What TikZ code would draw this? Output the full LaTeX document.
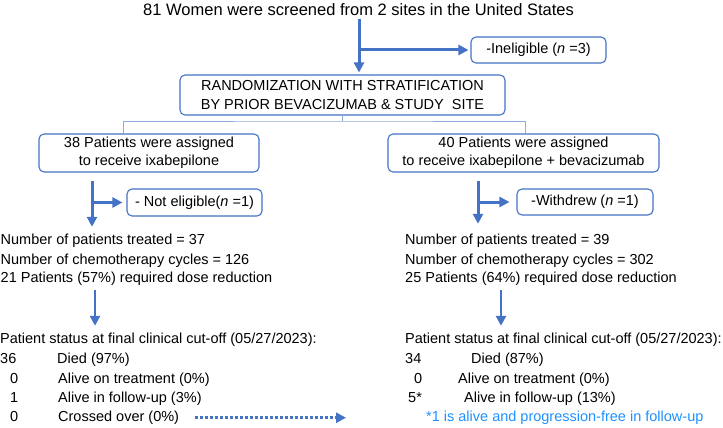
\documentclass[tikz,border=0pt]{standalone}
\usepackage{fontspec}
\setmainfont{Liberation Sans}
\usetikzlibrary{arrows.meta,positioning}
\definecolor{flowblue}{RGB}{68,114,196}
\definecolor{linkblue}{RGB}{143,170,220}
\definecolor{noteblue}{RGB}{30,144,255}

\begin{document}
\begin{tikzpicture}[
    x=1pt, y=-1pt,
    box/.style={draw=flowblue, line width=1.1pt, rounded corners=5pt, align=center, inner sep=0pt, font=\fontsize{14.5}{17.5}\selectfont},
    txt/.style={anchor=base west, inner sep=0pt, font=\fontsize{14.5}{17.5}\selectfont},
    flow/.style={->, line width=3pt, draw=flowblue},
    link/.style={draw=linkblue, line width=1pt},
    >={Triangle[length=10pt,width=10pt]}
]
\useasboundingbox (0,0) rectangle (723,428);

% arrow columns
\coordinate (mcol) at (359,0);
\coordinate (lcol) at (92,0);
\coordinate (rcol) at (478,0);
\coordinate (lcol2) at (95,0);
\coordinate (rcol2) at (501,0);
\coordinate (split) at (343,121);
\coordinate (crossend) at (346,417);

\node[txt, font=\fontsize{16.5}{19}\selectfont] (screen) at (143,16) {81 Women were screened from 2 sites in the United States};
\node[box, minimum width=135pt, minimum height=26pt] (inelig) at (538.5,50) {-Ineligible (\textit{n} =3)};
\node[box, font=\fontsize{14.5}{19}\selectfont, minimum width=325pt, minimum height=40pt] (rand) at (342.5,95)
    {RANDOMIZATION WITH STRATIFICATION\\BY PRIOR BEVACIZUMAB \& STUDY~ SITE};
\node[box, minimum width=220pt, minimum height=38pt] (lbox) at (149,153) {38 Patients were assigned\\to receive ixabepilone};
\node[box, minimum width=271pt, minimum height=38pt] (rbox) at (523.5,153) {40 Patients were assigned\\to receive ixabepilone + bevacizumab};
\node[box, minimum width=135pt, minimum height=27pt] (nelig) at (194.5,202.5) {- Not eligible(\textit{n} =1)};
\node[box, minimum width=136pt, minimum height=26pt] (withdr) at (585,202) {-Withdrew (\textit{n} =1)};

% ixabepilone arm
\node[txt] (ltreat) at (0.5,244.5) {Number of patients treated = 37};
\node[txt] (lcycles) at (0.5,264) {Number of chemotherapy cycles = 126};
\node[txt] (lreduce) at (0.5,282.5) {21 Patients (57\%) required dose reduction};
\node[txt] (lstatus) at (0,343.5) {Patient status at final clinical cut-off (05/27/2023):};
\node[txt] (ldiedn) at (0,363.5) {36};
\node[txt] (ldied) at (57,363.5) {Died (97\%)};
\node[txt] (lontrtn) at (10,383.5) {0};
\node[txt] (lontrt) at (58,383.5) {Alive on treatment (0\%)};
\node[txt] (lfupn) at (10,402.5) {1};
\node[txt] (lfup) at (58,402.5) {Alive in follow-up (3\%)};
\node[txt] (lcrossn) at (10,421.5) {0};
\node[txt] (lcross) at (58,421.5) {Crossed over (0\%)};

% ixabepilone + bevacizumab arm
\node[txt] (rtreat) at (405,244.5) {Number of patients treated = 39};
\node[txt] (rcycles) at (405,264) {Number of chemotherapy cycles = 302};
\node[txt] (rreduce) at (405,282.5) {25 Patients (64\%) required dose reduction};
\node[txt] (rstatus) at (405,343.5) {Patient status at final clinical cut-off (05/27/2023):};
\node[txt] (rdiedn) at (405,363.5) {34};
\node[txt] (rdied) at (471,363.5) {Died (87\%)};
\node[txt] (rontrtn) at (414,383.5) {0};
\node[txt] (rontrt) at (458,383.5) {Alive on treatment (0\%)};
\node[txt] (rfupn) at (408,402.5) {5*};
\node[txt] (rfup) at (464,402.5) {Alive in follow-up (13\%)};
\node[txt, text=noteblue] (rnote) at (426,421.5) {*1 is alive and progression-free in follow-up};

\draw[flow, shorten <=3pt, shorten >=2pt] (screen.south -| mcol) -- (rand.north -| mcol);
\draw[flow, shorten >=2pt] (mcol |- inelig.west) -- (inelig.west);
\draw[link] (rand.south) -- (rand.south |- split);
\draw[link] ([xshift=85pt]lbox.north west) |- (split) -| ([xshift=-134pt]rbox.north east);

\draw[flow, shorten <=8pt, shorten >=7pt] (lbox.south -| lcol) -- (ltreat.north -| lcol);
\draw[flow, shorten >=4pt] (lcol |- nelig.west) -- (nelig.west);
\draw[flow, shorten <=8pt, shorten >=10pt] (rbox.south -| rcol) -- (rtreat.north -| rcol);
\draw[flow, shorten >=7pt] (rcol |- withdr.west) -- (withdr.west);

\draw[flow, line width=2.5pt, shorten <=4.5pt, shorten >=7pt] (lreduce.south -| lcol2) -- (lstatus.north -| lcol2);
\draw[flow, line width=2.5pt, shorten <=4.5pt, shorten >=7pt] (rreduce.south -| rcol2) -- (rstatus.north -| rcol2);
\draw[flow, line width=2.8pt, dash pattern=on 2.8pt off 2.2pt, shorten <=16pt] (lcross.east) -- (lcross.east -| crossend);
\end{tikzpicture}
\end{document}
